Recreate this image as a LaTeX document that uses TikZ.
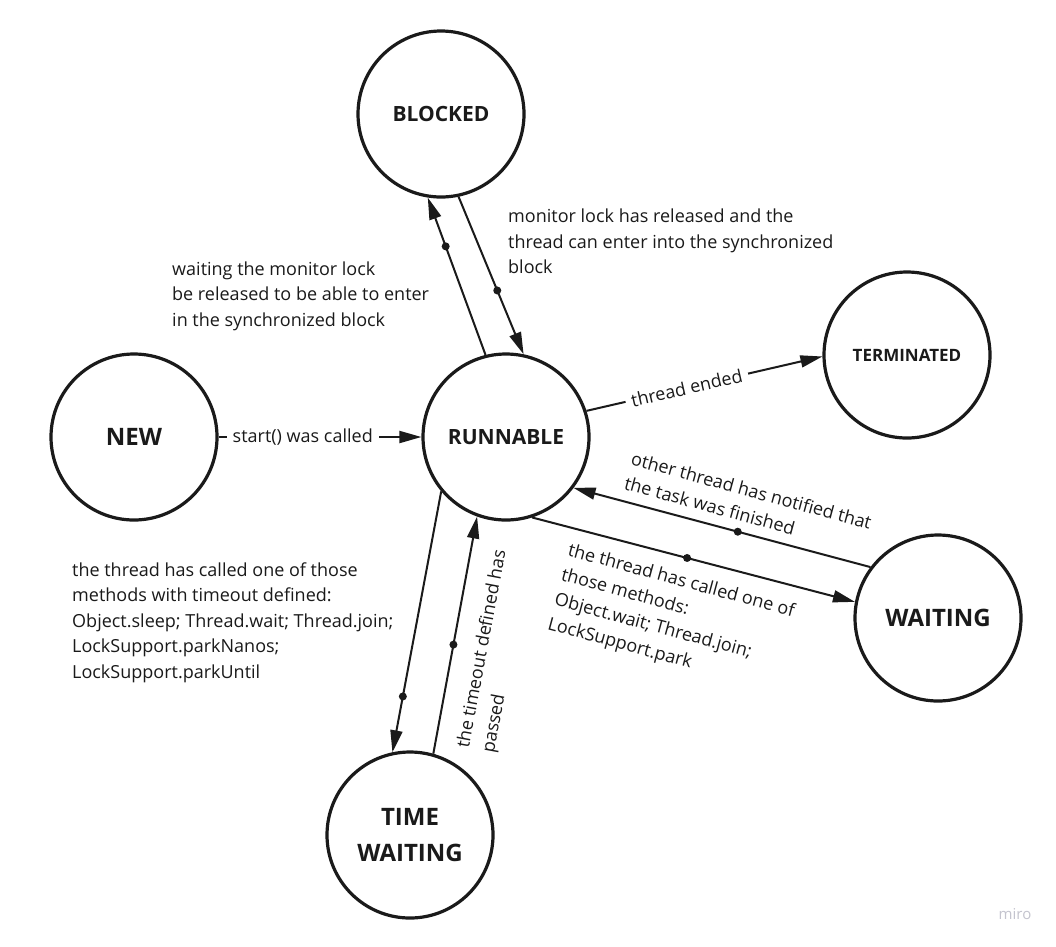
\documentclass[tikz,border=0pt]{standalone}
\usepackage{fontspec}
\setmainfont{Open Sans}
\usetikzlibrary{arrows.meta}
\definecolor{ink}{HTML}{1A1A1A}
\definecolor{wm}{HTML}{C4C4CE}
\begin{document}
\begin{tikzpicture}[x=1pt,y=-1pt,
  state/.style={circle, draw=ink, line width=3.2pt, minimum size=166pt, inner sep=0pt, text=ink, font=\bfseries\fontsize{21}{25}\selectfont, align=center},
  bigstate/.style={state, font=\bfseries\fontsize{24}{36}\selectfont},
  conn/.style={draw=ink, line width=2pt, -{Triangle[length=22pt,width=12pt]}},
  dot/.style={circle, fill=ink, inner sep=0pt, minimum size=8pt},
  note/.style={text=ink, font=\fontsize{18}{25.5}\selectfont, align=left, inner sep=0pt, anchor=north west},
  lbl/.style={text=ink, font=\fontsize{18}{22}\selectfont, fill=white, inner xsep=6pt, inner ysep=2pt}
]
\useasboundingbox[fill=white] (0,0) rectangle (1056,946);

\node[state] (blocked) at (441,114) {BLOCKED};
\node[state] (runnable) at (506,437) {RUNNABLE};
\node[state, font=\bfseries\fontsize{17}{20}\selectfont] (terminated) at (907,355) {TERMINATED};
\node[bigstate] (new) at (134,437) {NEW};
\node[bigstate] (waiting) at (938,618) {WAITING};
\node[bigstate] (timewaiting) at (410,835) {TIME\\WAITING};

\draw[conn] (new.0) -- node[lbl, pos=0.415] (lstart) {start() was called} (runnable.180);
\draw[conn] (runnable.18.4) -- node[lbl, sloped, pos=0.425] (lend) {thread ended} (terminated.181);
\draw[conn] (runnable.104) -- node[dot, pos=0.69] (d1) {} (blocked.261);
\draw[conn] (blocked.282.5) -- node[dot, pos=0.595] (d2) {} (runnable.78.4);
\draw[conn] (waiting.143.9) -- node[dot, pos=0.447] (d3) {} (runnable.323.8);
\draw[conn] (runnable.288.8) -- node[dot, pos=0.48] (d4) {} (waiting.169.3);
\draw[conn] (runnable.220.9) -- node[dot, pos=0.786] (d5) {} (timewaiting.102.2);
\draw[conn] (timewaiting.74.5) -- node[dot, pos=0.46] (d6) {} (runnable.250.3);

\node[note] (n1) at (172,261.5) {waiting the monitor lock\\be released to be able to enter\\in the synchronized block};
\node[note] (n2) at (508,209) {monitor lock has released and the\\thread can enter into the synchronized\\block};
\node[note, rotate=-15.2] (n3) at (633.5,451) {other thread has notified that\\the task was finished};
\node[note, rotate=-15.2] (n4) at (570.5,542) {the thread has called one of\\those methods:\\Object.wait; Thread.join;\\LockSupport.park};
\node[note] (n5) at (72,562.5) {the thread has called one of those\\methods with timeout defined:\\Object.sleep; Thread.wait; Thread.join;\\LockSupport.parkNanos;\\LockSupport.parkUntil};
\node[note, rotate=79.4] (n6) at (455,746.5) {the timeout defined has\\passed};
\node[text=wm, font=\fontsize{15}{17}\selectfont] (miro) at (1015,914) {miro};
\end{tikzpicture}
\end{document}
